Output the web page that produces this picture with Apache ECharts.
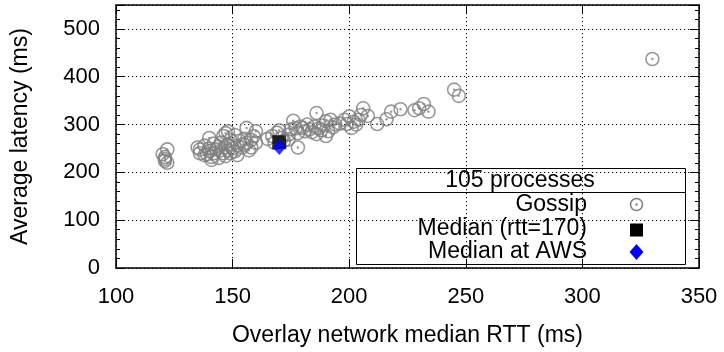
<!DOCTYPE html>
<html>
<head>
<meta charset="utf-8">
<script src="https://cdn.jsdelivr.net/npm/echarts@6/dist/echarts.min.js"></script>
<style>
html,body{margin:0;padding:0;background:#fff;}
#c{width:724px;height:352px;}
</style>
</head>
<body>
<div id="c"></div>
<script>
// ---- data ----
var gossip = [
  [120,238],[121,232],[121,228],[122,248],[121,224],[122,220],
  [135,252],[136,248],[136,240],[138,236],[138,256],[139,238],[140,272],[140,250],[140,244],
  [141,232],[141,226],[142,240],[142,260],[143,248],[144,230],[144,254],[145,262],[145,246],
  [146,240],[146,276],[147,282],[147,252],[147,234],[148,258],[148,246],[148,286],[149,268],
  [149,240],[150,250],[151,244],[151,278],[152,236],[152,256],[153,266],[154,252],[155,270],
  [155,258],[156,293],[156,262],[157,246],[158,252],[158,268],[159,276],[160,286],[160,262],
  [165,270],[167,276],[168,262],[169,283],[170,288],[171,272],[172,266],[174,279],[174,269],
  [175,290],[176,308],[177,292],[178,252],[178,282],[179,296],
  [180,293],[181,286],[182,300],[183,290],[184,284],[185,296],[186,324],[186,280],[187,292],
  [188,288],[189,298],[190,307],[190,276],[191,286],[192,310],[193,294],[194,300],[196,302],
  [198,310],[199,301],
  [200,317],[201,293],[202,306],[203,300],[204,310],[205,320],[206,334],[208,318],[212,301],
  [216,311],[218,327],[222,332],[228,330],[230,334],[232,343],[234,327],
  [245,373],[247,360],[330,437]
];
var medianRtt = [[170,263]];
var medianAws = [[170,253]];
var xTicks = {min:100, max:350, step:50};
var yTicks = {min:0, max:550, step:100, minor:20};
var legendTitle = '105 processes';
var seriesNames = ['Gossip', 'Median (rtt=170)', 'Median at AWS'];

// ---- chart ----
var chart = echarts.init(document.getElementById('c'), null, {renderer:'canvas'});
var FONT = 'Liberation Sans, Arial, Helvetica, sans-serif';
var GRAY = '#808080';
var dotted = {show:true, lineStyle:{color:'#000', width:1, type:[1.2,2.8]}};
function yAx(pos, step, len, opts){
  return Object.assign({
    type:'value', position:pos, min:yTicks.min, max:yTicks.max, interval:step,
    axisLine:{show:false}, axisTick:{show:true, inside:true, length:len, lineStyle:{color:'#000', width:1}},
    axisLabel:{show:false}, splitLine:{show:false}
  }, opts||{});
}
var option = {
  animation:false,
  backgroundColor:'#fff',
  grid:{left:116, right:25, top:5, bottom:79, containLabel:false},
  xAxis:[
    {type:'value', position:'bottom', min:xTicks.min, max:xTicks.max, interval:xTicks.step,
     name:'Overlay network median RTT (ms)', nameLocation:'middle', nameGap:56,
     nameTextStyle:{fontSize:23, color:'#000', fontFamily:FONT},
     axisLine:{show:true, onZero:false, lineStyle:{color:'#000', width:1.5}},
     axisTick:{show:true, inside:true, length:9, lineStyle:{color:'#000', width:1}},
     axisLabel:{fontSize:22, color:'#000', fontFamily:FONT, margin:18},
     splitLine:dotted},
    {type:'value', position:'top', min:xTicks.min, max:xTicks.max, interval:xTicks.step,
     axisLine:{show:true, onZero:false, lineStyle:{color:'#000', width:1.5}},
     axisTick:{show:true, inside:true, length:9, lineStyle:{color:'#000', width:1}},
     axisLabel:{show:false}, splitLine:{show:false}}
  ],
  yAxis:[
    yAx('left', yTicks.step, 9, {
      name:'Average latency (ms)', nameLocation:'middle', nameGap:84,
      nameTextStyle:{fontSize:23, color:'#000', fontFamily:FONT},
      axisLine:{show:true, onZero:false, lineStyle:{color:'#000', width:1.5}},
      axisLabel:{show:true, fontSize:22, color:'#000', fontFamily:FONT, margin:16,
        formatter:function(v){ return v > 500 ? '' : String(v); }},
      splitLine:dotted}),
    yAx('left', yTicks.minor, 4),
    yAx('right', yTicks.step, 9, {axisLine:{show:true, onZero:false, lineStyle:{color:'#000', width:1.5}}}),
    yAx('right', yTicks.minor, 4)
  ],
  series:[
    {name:seriesNames[0], type:'scatter', data:gossip, symbol:'circle', symbolSize:13,
     itemStyle:{color:'rgba(0,0,0,0)', borderColor:GRAY, borderWidth:1.6}, z:3},
    {name:seriesNames[0]+' center', type:'scatter', data:gossip, symbol:'circle', symbolSize:2.4,
     itemStyle:{color:GRAY}, silent:true, z:3},
    {name:seriesNames[1], type:'scatter', data:medianRtt, symbol:'rect', symbolSize:14,
     itemStyle:{color:'#000'}, z:4},
    {name:seriesNames[2], type:'scatter', data:medianAws, symbol:'diamond', symbolSize:[14,16],
     itemStyle:{color:'#0000ff'}, z:5}
  ],
  graphic:[
    {type:'group', z:100, children:[
      {type:'rect', shape:{x:356.5, y:168.5, width:329, height:96}, style:{fill:'#fff', stroke:'#000', lineWidth:1}},
      {type:'line', shape:{x1:356.5, y1:192.5, x2:685.5, y2:192.5}, style:{stroke:'#000', lineWidth:1}},
      {type:'text', x:520, y:181, style:{text:legendTitle, font:'23px '+FONT, fill:'#000', align:'center', verticalAlign:'middle'}},
      {type:'text', x:587, y:205, style:{text:seriesNames[0], font:'23px '+FONT, fill:'#000', align:'right', verticalAlign:'middle'}},
      {type:'text', x:587, y:229, style:{text:seriesNames[1], font:'23px '+FONT, fill:'#000', align:'right', verticalAlign:'middle'}},
      {type:'text', x:587, y:252, style:{text:seriesNames[2], font:'23px '+FONT, fill:'#000', align:'right', verticalAlign:'middle'}},
      {type:'circle', shape:{cx:636.5, cy:204.5, r:6}, style:{fill:'none', stroke:GRAY, lineWidth:1.6}},
      {type:'circle', shape:{cx:636.5, cy:204.5, r:1.2}, style:{fill:GRAY}},
      {type:'rect', shape:{x:630, y:223.5, width:13, height:13}, style:{fill:'#000'}},
      {type:'polygon', shape:{points:[[636.5,244],[643.5,252],[636.5,260],[629.5,252]]}, style:{fill:'#0000ff'}}
    ]}
  ]
};
chart.setOption(option);
</script>
</body>
</html>
